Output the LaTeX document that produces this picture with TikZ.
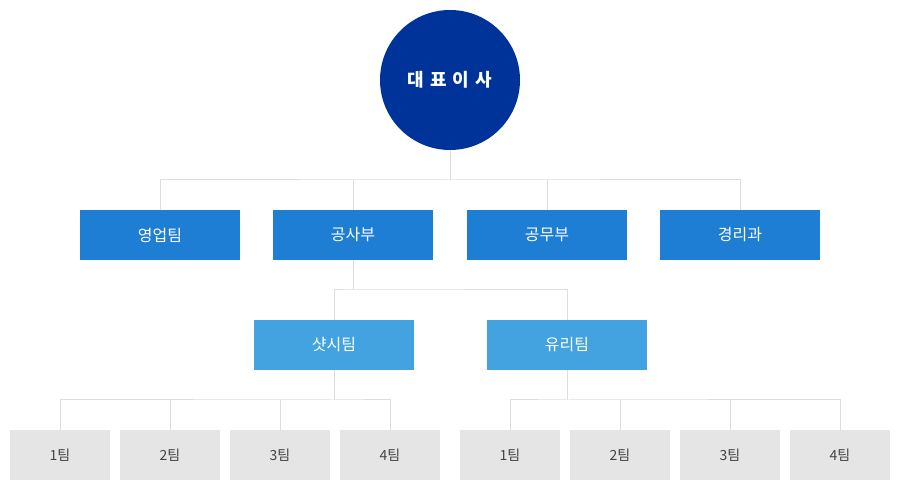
\documentclass[tikz,border=0pt]{standalone}
\usepackage{fontspec}
\setmainfont{Noto Sans CJK KR}
\usepackage{tikz}
\usetikzlibrary{positioning}
\usetikzlibrary{calc}
\definecolor{ceoblue}{RGB}{0,51,153}
\definecolor{deptblue}{RGB}{30,126,212}
\definecolor{teamblue}{RGB}{66,163,224}
\definecolor{unitgray}{RGB}{229,229,229}
\definecolor{linegray}{RGB}{221,221,221}
\definecolor{textgray}{RGB}{68,68,68}
\tikzset{ceo node/.style={circle,fill=ceoblue,minimum size=140pt,inner sep=0pt,outer sep=0pt,text=white,font=\fontsize{18}{21}\selectfont\bfseries},
	dept node/.style={rectangle,fill=deptblue,minimum width=160pt,minimum height=50pt,inner sep=0pt,outer sep=0pt,text=white,font=\fontsize{16}{19}\selectfont},
	team node/.style={dept node,fill=teamblue},
	unit node/.style={rectangle,fill=unitgray,minimum width=100pt,minimum height=50pt,inner sep=0pt,outer sep=0pt,text=textgray,font=\fontsize{14}{17}\selectfont},
	link/.style={draw=linegray,line width=1pt},}

\begin{document}
\begin{tikzpicture}[x=1pt, y=1pt, node distance=10pt]
	\useasboundingbox (0,0) rectangle (900,500);
		\node[ceo node] (ceo) at (450,420) {대\,\,표\,\,이\,\,사};
	    \node[dept node] (gongsa) at (353,265) {공사부};
	    \node[dept node] (sales) [left = 33pt of gongsa] {영업팀};
	    \node[dept node] (gongmu) [right = 34pt of gongsa] {공무부};
	    \node[dept node] (account) [right = 33pt of gongmu] {경리과};
	    \node[team node] (sash) at (334,155) {샷시팀};
	    \node[team node] (glass) at (567,155) {유리팀};
	    \node[unit node] (s1) at (60,45) {1팀};
	    \node[unit node] (s2) [right = of s1] {2팀};
	    \node[unit node] (s3) [right = of s2] {3팀};
	    \node[unit node] (s4) [right = of s3] {4팀};
	    \node[unit node] (g1) [right = 20pt of s4] {1팀};
	    \node[unit node] (g2) [right = of g1] {2팀};
	    \node[unit node] (g3) [right = of g2] {3팀};
	    \node[unit node] (g4) [right = of g3] {4팀};

	    \coordinate (bus1) at (450,320);
	    \coordinate (bus2) at (353,210);
	    \coordinate (bus3) at (334,100);
	    \coordinate (bus4) at (567,100);

	    \path[link]
	    (ceo.south) -- (bus1)
	    (sales.north) |- (bus1) -| (account.north)
	    (gongsa.north) -- (gongsa.north |- bus1)
	    (gongmu.north) -- (gongmu.north |- bus1)
	    (gongsa.south) -- (bus2)
	    (sash.north) |- (bus2) -| (glass.north)
	    (sash.south) -- (bus3)
	    (s1.north) |- (bus3) -| (s4.north)
	    (s2.north) -- (s2.north |- bus3)
	    (s3.north) -- (s3.north |- bus3)
	    (glass.south) -- (bus4)
	    (g1.north) |- (bus4) -| (g4.north)
	    (g2.north) -- (g2.north |- bus4)
	    (g3.north) -- (g3.north |- bus4);
	\end{tikzpicture}
\end{document}
